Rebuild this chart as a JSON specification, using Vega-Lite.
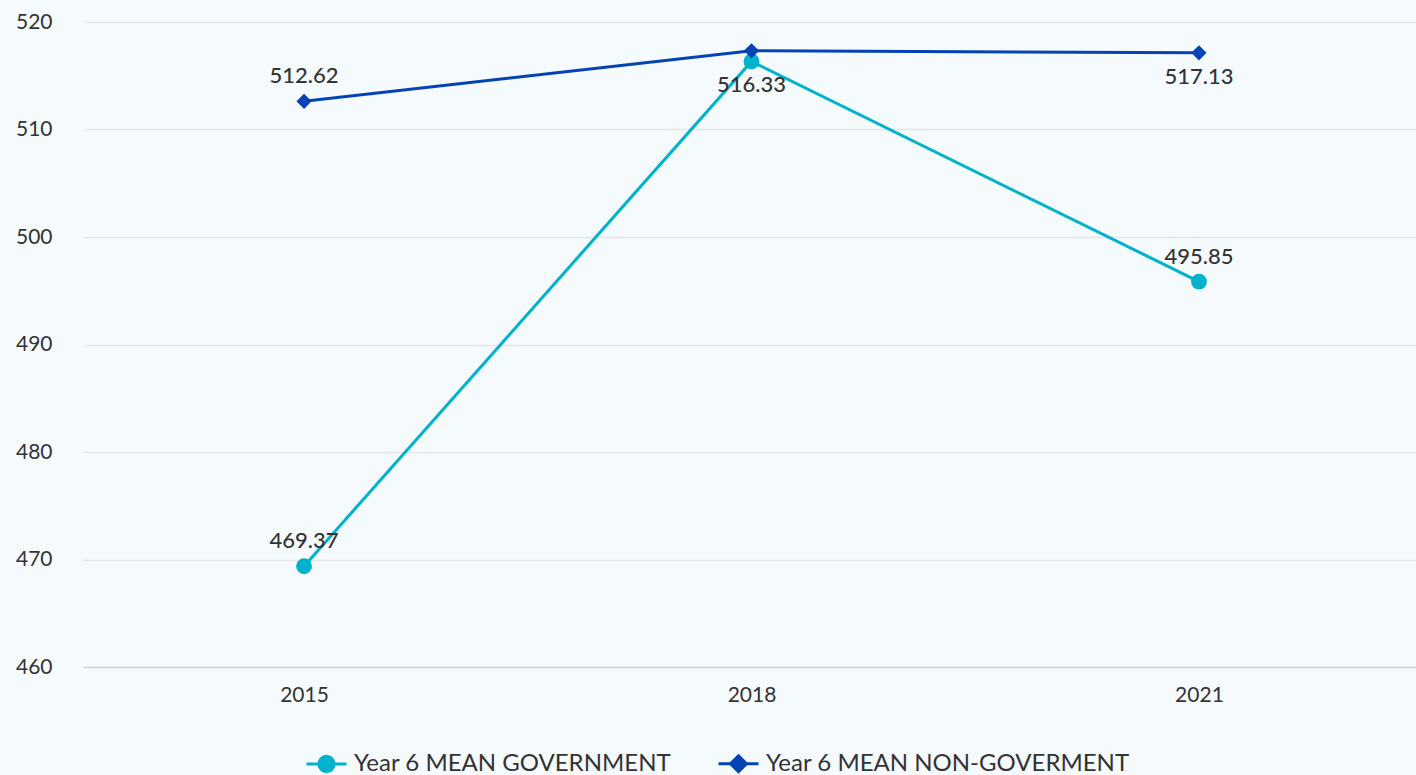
{
  "$schema": "https://vega.github.io/schema/vega-lite/v6.json",
  "width": 1337,
  "height": 645,
  "autosize": {"type": "none"},
  "padding": {"left": 83, "top": 22, "right": 0, "bottom": 108},
  "background": "#f5fafd",
  "config": {
    "view": {"stroke": null},
    "font": "Lato",
    "axis": {"labelFont": "Lato", "labelColor": "#333333"}
  },
  "data": {
    "values": [
      {"year": "2015", "series": "Year 6 MEAN GOVERNMENT", "value": 469.37},
      {"year": "2018", "series": "Year 6 MEAN GOVERNMENT", "value": 516.33},
      {"year": "2021", "series": "Year 6 MEAN GOVERNMENT", "value": 495.85},
      {"year": "2015", "series": "Year 6 MEAN NON-GOVERMENT", "value": 512.62},
      {"year": "2018", "series": "Year 6 MEAN NON-GOVERMENT", "value": 517.32},
      {"year": "2021", "series": "Year 6 MEAN NON-GOVERMENT", "value": 517.13}
    ]
  },
  "encoding": {
    "x": {
      "field": "year", "type": "ordinal",
      "scale": {"type": "point", "padding": 0.494},
      "axis": {"title": null, "labelAngle": 0, "labelFontSize": 21, "labelPadding": 17, "ticks": false, "domainColor": "#ccd6eb", "domainWidth": 1.5, "grid": false}
    },
    "y": {
      "field": "value", "type": "quantitative",
      "scale": {"domain": [460, 520], "nice": false, "zero": false},
      "axis": {"title": null, "values": [460, 470, 480, 490, 500, 510, 520], "labelFontSize": 21, "labelPadding": 31, "ticks": false, "domain": false, "gridColor": "#e6e6e6", "gridWidth": 1.5}
    },
    "color": {
      "field": "series", "type": "nominal",
      "scale": {"domain": ["Year 6 MEAN GOVERNMENT", "Year 6 MEAN NON-GOVERMENT"], "range": ["#00b2cb", "#0443b3"]}
    }
  },
  "layer": [
    {
      "mark": {"type": "line", "strokeWidth": 3},
      "encoding": {
        "color": {
          "field": "series", "type": "nominal",
          "legend": {
            "title": null, "orient": "none", "direction": "horizontal",
            "legendX": 222, "legendY": 720, "labelLimit": 0,
            "labelFontSize": 24, "labelColor": "#333333", "labelFont": "Lato",
            "symbolSize": 1600, "symbolStrokeWidth": 3, "columnPadding": 40, "labelOffset": 6,
            "encode": {
              "symbols": {
                "update": {
                  "shape": {"signal": "datum.value == 'Year 6 MEAN GOVERNMENT' ? 'M-1,0L1,0M-0.38,0A0.38,0.38 0 1,0 0.38,0A0.38,0.38 0 1,0 -0.38,0Z' : 'M-1,0L1,0M0,-0.4L0.4,0L0,0.4L-0.4,0Z'"},
                  "fill": {"signal": "datum.value == 'Year 6 MEAN GOVERNMENT' ? '#00b2cb' : '#0443b3'"},
                  "stroke": {"signal": "datum.value == 'Year 6 MEAN GOVERNMENT' ? '#00b2cb' : '#0443b3'"},
                  "fillOpacity": {"value": 1},
                  "strokeWidth": {"value": 3}
                }
              }
            }
          }
        }
      }
    },
    {
      "transform": [{"filter": "datum.series == 'Year 6 MEAN GOVERNMENT'"}],
      "mark": {"type": "point", "shape": "circle", "filled": true, "opacity": 1, "size": 250},
      "encoding": {"color": {"field": "series", "type": "nominal", "legend": null}}
    },
    {
      "transform": [{"filter": "datum.series == 'Year 6 MEAN NON-GOVERMENT'"}],
      "mark": {"type": "point", "shape": "diamond", "filled": true, "opacity": 1, "size": 230},
      "encoding": {"color": {"field": "series", "type": "nominal", "legend": null}}
    },
    {
      "transform": [{"filter": "(datum.series == 'Year 6 MEAN GOVERNMENT' && datum.year != '2018') || (datum.series == 'Year 6 MEAN NON-GOVERMENT' && datum.year == '2015')"}],
      "mark": {"type": "text", "dy": -25, "fontSize": 22, "fontWeight": 500, "font": "Lato", "color": "#333333"},
      "encoding": {"text": {"field": "value", "type": "quantitative", "format": ".2f"}, "color": {"value": "#333333"}}
    },
    {
      "transform": [{"filter": "(datum.series == 'Year 6 MEAN GOVERNMENT' && datum.year == '2018') || (datum.series == 'Year 6 MEAN NON-GOVERMENT' && datum.year == '2021')"}],
      "mark": {"type": "text", "dy": 24, "fontSize": 22, "fontWeight": 500, "font": "Lato", "color": "#333333"},
      "encoding": {"text": {"field": "value", "type": "quantitative", "format": ".2f"}, "color": {"value": "#333333"}}
    }
  ]
}
